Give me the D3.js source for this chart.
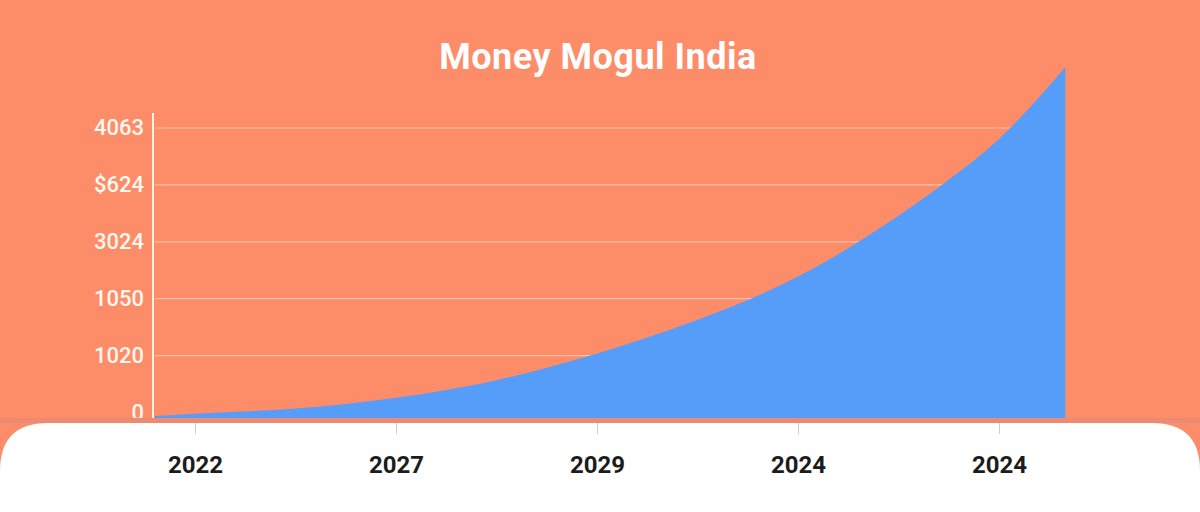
<!DOCTYPE html>
<html>
<head>
<meta charset="utf-8">
<script src="https://cdn.jsdelivr.net/npm/d3@7"></script>
<style>
  html, body { margin: 0; padding: 0; background: #fd8c68; }
  svg { display: block; font-family: Roboto, "Noto Sans", sans-serif; }
</style>
</head>
<body>
<div id="chart"></div>
<script>
(function () {

// chart data
var title = "Money Mogul India";
var yearLabels = ["2022", "2027", "2029", "2024", "2024"];
var valueLabels = ["0", "1020", "1050", "3024", "$624", "4063"];
// position along the x axis (in tick steps) and the height of the area (in grid steps)
var growthPos = [-0.2, 0, 0.5, 1, 1.5, 2, 2.5, 3, 3.5, 3.75, 4, 4.33];
var growthVal = [-0.07, -0.03, 0.06, 0.25, 0.56, 1.03, 1.62, 2.38, 3.45, 4.08, 4.8, 6.06];

var data = growthPos.map(function (p, i) {
    return {pos: p, value: growthVal[i]};
});

var width = 1200, height = 512;
var plotBottom = 418;

var svg = d3.select('#chart')
    .append('svg')
    .attr('width', width)
    .attr('height', height);

svg.append('rect')
    .attr('width', width)
    .attr('height', height)
    .attr('fill', '#fd8c68');

var xScale = d3.scaleLinear().domain([0, yearLabels.length - 1]).range([195, 999]);
var yScale = d3.scaleLinear().domain([0, valueLabels.length - 1]).range([412, 127.5]);

// grid lines
svg.append('g')
    .attr('class', 'grid')
    .attr('transform', 'translate(' + xScale(-0.2) + ',0)')
    .call(d3.axisLeft(yScale)
        .tickValues(d3.range(1, valueLabels.length))
        .tickSize(-(xScale(4.33) - xScale(-0.2)))
        .tickFormat(''))
    .call(function (g) { g.select('.domain').remove(); })
    .selectAll('line')
    .attr('stroke', 'rgba(255,235,220,0.55)')
    .attr('stroke-width', 1.2);

// area
var areaGen = d3.area()
    .curve(d3.curveMonotoneX)
    .x(function (d) { return xScale(d.pos); })
    .y0(plotBottom)
    .y1(function (d) { return yScale(d.value); });

svg.append('path')
    .datum(data)
    .attr('class', 'area')
    .attr('d', areaGen)
    .attr('fill', '#559df9');

// y axis line
svg.append('line')
    .attr('x1', 153).attr('x2', 153)
    .attr('y1', 113).attr('y2', plotBottom)
    .attr('stroke', '#fff3df')
    .attr('stroke-width', 2);

// y labels
var yAxis = svg.append('g')
    .attr('class', 'y axis')
    .attr('transform', 'translate(153,0)')
    .call(d3.axisLeft(yScale)
        .tickValues(d3.range(0, valueLabels.length))
        .tickSize(0)
        .tickPadding(9)
        .tickFormat(function (d) { return valueLabels[d]; }));
yAxis.select('.domain').remove();
yAxis.selectAll('text')
    .attr('fill', '#fff8f0')
    .style('font-size', '22px')
    .style('font-weight', '500')
    .style('font-family', 'Roboto, sans-serif');

// thin shadow under the plot
svg.append('rect')
    .attr('x', 0).attr('y', plotBottom)
    .attr('width', width).attr('height', 5)
    .attr('fill', '#ec8a74');

// white bottom panel with rounded top corners
var r = 48, top = 423;
svg.append('path')
    .attr('d', 'M0,' + height + ' L0,' + (top + r) +
        ' Q0,' + top + ' ' + r + ',' + top +
        ' L' + (width - r) + ',' + top +
        ' Q' + width + ',' + top + ' ' + width + ',' + (top + r) +
        ' L' + width + ',' + height + ' Z')
    .attr('fill', '#ffffff');

// x axis
var xAxis = svg.append('g')
    .attr('class', 'x axis')
    .attr('transform', 'translate(0,' + top + ')')
    .call(d3.axisBottom(xScale)
        .tickValues(d3.range(0, yearLabels.length))
        .tickSize(11)
        .tickPadding(22)
        .tickFormat(function (d) { return yearLabels[d]; }));
xAxis.select('.domain').remove();
xAxis.selectAll('line').attr('stroke', '#cfcfcf');
xAxis.selectAll('text')
    .attr('fill', '#1c1c1c')
    .style('font-size', '24px')
    .style('font-weight', 'bold')
    .style('font-family', 'Roboto, sans-serif');

// title
svg.append('text')
    .attr('x', 598)
    .attr('y', 69)
    .attr('text-anchor', 'middle')
    .attr('fill', '#ffffff')
    .style('font-size', '36px')
    .style('font-weight', 'bold')
    .style('letter-spacing', '0.5px')
    .text(title);

})();
</script>
</body>
</html>
